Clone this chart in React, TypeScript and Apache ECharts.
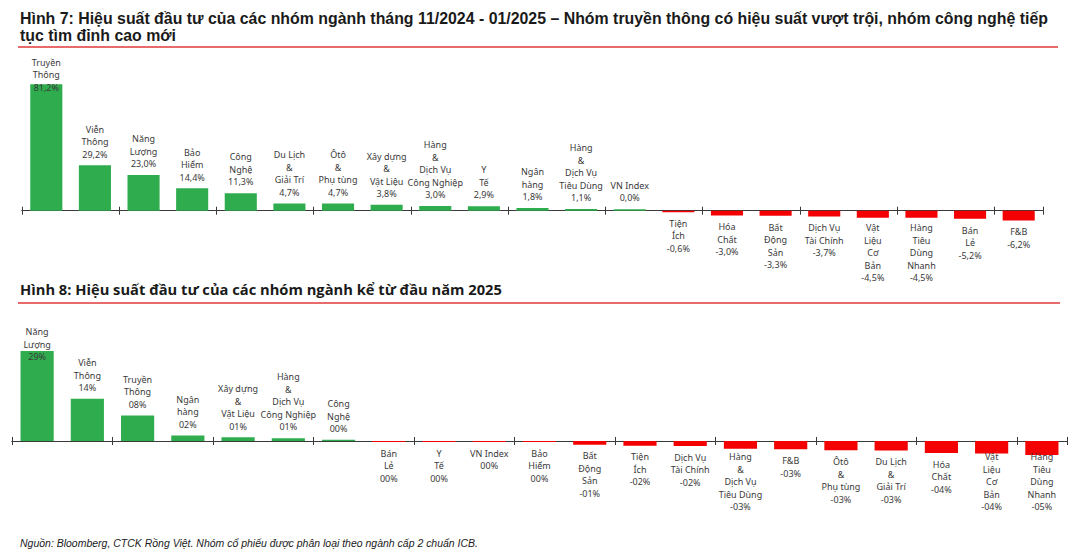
import React, { useEffect, useRef } from "react";
import * as echarts from "echarts";

const cats7 = ["Truyền\nThông", "Viễn\nThông", "Năng\nLượng", "Bảo\nHiểm", "Công\nNghệ", "Du Lịch\n&\nGiải Trí", "Ôtô\n&\nPhụ tùng", "Xây dựng\n&\nVật Liệu", "Hàng\n&\nDịch Vụ\nCông Nghiệp", "Y\nTế", "Ngân\nhàng", "Hàng\n&\nDịch Vụ\nTiêu Dùng", "VN Index", "Tiện\nÍch", "Hóa\nChất", "Bất\nĐộng\nSản", "Dịch Vụ\nTài Chính", "Vật\nLiệu\nCơ\nBản", "Hàng\nTiêu\nDùng\nNhanh", "Bán\nLẻ", "F&B"];
const vals7 = [81.2, 29.2, 23.0, 14.4, 11.3, 4.7, 4.7, 3.8, 3.0, 2.9, 1.8, 1.1, 0.0, -0.6, -3.0, -3.3, -3.7, -4.5, -4.5, -5.2, -6.2];

const cats8 = ["Năng\nLượng", "Viễn\nThông", "Truyền\nThông", "Ngân\nhàng", "Xây dựng\n&\nVật Liệu", "Hàng\n&\nDịch Vụ\nCông Nghiệp", "Công\nNghệ", "Bán\nLẻ", "Y\nTế", "VN Index", "Bảo\nHiểm", "Bất\nĐộng\nSản", "Tiện\nÍch", "Dịch Vụ\nTài Chính", "Hàng\n&\nDịch Vụ\nTiêu Dùng", "F&B", "Ôtô\n&\nPhụ tùng", "Du Lịch\n&\nGiải Trí", "Hóa\nChất", "Vật\nLiệu\nCơ\nBản", "Hàng\nTiêu\nDùng\nNhanh"];
const vals8 = [29.0, 13.6, 8.2, 1.8, 1.2, 0.9, 0.4, -0.1, -0.2, -0.2, -0.3, -1.2, -1.5, -1.6, -2.5, -2.7, -3.0, -3.1, -3.9, -4.0, -4.5];

const title7a = "Hình 7: Hiệu suất đầu tư của các nhóm ngành tháng 11/2024 - 01/2025 – Nhóm truyền thông có hiệu suất vượt trội, nhóm công nghệ tiếp";
const title7b = "tục tìm đỉnh cao mới";
const title8 = "Hình 8: Hiệu suất đầu tư của các nhóm ngành kể từ đầu năm 2025";
const footer = "Nguồn: Bloomberg, CTCK Rồng Việt. Nhóm cổ phiếu được phân loại theo ngành cấp 2 chuẩn ICB.";

const GREEN = "#2FAD4E";
const RED = "#F40000";
const AXIS = "#3a3a3a";
const LABEL_FONT = "'Noto Sans', 'Open Sans', sans-serif";
const TITLE_FONT = "bold 16px 'Liberation Sans', sans-serif";
const TITLE8_FONT = "bold 14px 'Open Sans', sans-serif";
const FOOT_FONT = "italic 11.5px 'Liberation Sans', sans-serif";
const LINE_H = 12.5;
const DIST = 5;

const fmt7 = (v: number) => v.toFixed(1).replace(".", ",") + "%";
const fmt8 = (v: number) => {
  const r = Math.round(Math.abs(v));
  const s = String(r).padStart(2, "0");
  return (r !== 0 && v < 0 ? "-" : "") + s + "%";
};

function measure(text: string, font: string) {
  const c = document.createElement("canvas").getContext("2d");
  if (!c) return 1;
  c.font = font;
  return c.measureText(text).width || 1;
}

type Panel = { top: number; height: number; min: number; max: number; labelTop: number; labelBottom: number };

const panel7: Panel = { top: 70.6, height: 155.7, min: -10, max: 90, labelTop: 56, labelBottom: 284 };
const panel8: Panel = { top: 332.5, height: 139.5, min: -10, max: 35, labelTop: 325.5, labelBottom: 513 };

function makeData(cats: string[], vals: number[], fmt: (v: number) => string, p: Panel) {
  const ppu = p.height / (p.max - p.min);
  const zeroY = p.top + p.max * ppu;
  return vals.map((v, i) => {
    const lines = cats[i].split("\n").length + 1;
    const h = lines * LINE_H;
    let off = 0;
    if (v >= 0) {
      const labelTopY = zeroY - v * ppu - DIST - h;
      if (labelTopY < p.labelTop) off = p.labelTop - labelTopY;
    } else {
      const labelBottomY = zeroY - v * ppu + DIST + h;
      if (labelBottomY > p.labelBottom) off = p.labelBottom - labelBottomY;
    }
    return {
      value: v,
      itemStyle: { color: v >= 0 ? GREEN : RED },
      label: {
        position: v >= 0 ? "top" : "bottom",
        offset: [0, off],
        formatter: cats[i] + "\n" + fmt(v),
      },
    };
  });
}

function xAxes(gridIndex: number, cats: string[]) {
  const base = {
    type: "category",
    gridIndex,
    data: cats,
    position: "bottom",
    axisLabel: { show: false },
    splitLine: { show: false },
    axisLine: { show: true, onZero: true, lineStyle: { color: AXIS, width: 1 } },
  };
  return [
    { ...base, axisTick: { show: true, inside: false, length: 4, lineStyle: { color: AXIS } } },
    { ...base, axisTick: { show: true, inside: true, length: 4, lineStyle: { color: AXIS } } },
  ];
}

function yAxes(gridIndex: number, p: Panel) {
  const base = { type: "value", gridIndex, min: p.min, max: p.max, show: false, splitLine: { show: false } };
  return [base, { ...base }];
}

const labelBase = {
  show: true,
  fontSize: 9,
  lineHeight: LINE_H,
  fontFamily: LABEL_FONT,
  color: "#3a3a3a",
  distance: DIST,
};

function fittedText(text: string, font: string, x: number, y: number, targetWidth: number) {
  const w = measure(text, font);
  return {
    type: "text",
    x,
    y,
    scaleX: targetWidth / w,
    style: { text, font, fill: "#1a1a1a", align: "left", verticalAlign: "middle" },
  };
}

export default function App() {
  const ref = useRef<HTMLDivElement>(null);
  useEffect(() => {
    if (!ref.current) return;
    const chart = echarts.init(ref.current, undefined, { renderer: "svg" });
    const t7aW = 1028;
    const t7Scale = t7aW / measure(title7a, TITLE_FONT);
    const option: any = {
      animation: false,
      backgroundColor: "#ffffff",
      grid: [
        { left: 22, width: 1021, top: panel7.top, height: panel7.height },
        { left: 12, width: 1055, top: panel8.top, height: panel8.height },
      ],
      xAxis: [...xAxes(0, cats7), ...xAxes(1, cats8)],
      yAxis: [...yAxes(0, panel7), ...yAxes(1, panel8)],
      series: [
        {
          type: "bar",
          xAxisIndex: 0,
          yAxisIndex: 0,
          barWidth: "66%",
          barMinHeight: 1.5,
          label: labelBase,
          data: makeData(cats7, vals7, fmt7, panel7),
        },
        {
          type: "bar",
          xAxisIndex: 2,
          yAxisIndex: 2,
          barWidth: "66%",
          barMinHeight: 1,
          label: labelBase,
          data: makeData(cats8, vals8, fmt8, panel8),
        },
      ],
      graphic: [
        fittedText(title7a, TITLE_FONT, 20, 18, t7aW),
        {
          type: "text",
          x: 20,
          y: 35,
          scaleX: t7Scale,
          style: { text: title7b, font: TITLE_FONT, fill: "#1a1a1a", align: "left", verticalAlign: "middle" },
        },
        {
          type: "line",
          shape: { x1: 18, y1: 47, x2: 1058, y2: 47 },
          style: { stroke: "#E03A3A", lineWidth: 1.5 },
        },
        fittedText(title8, TITLE8_FONT, 20, 290, 482),
        {
          type: "line",
          shape: { x1: 18, y1: 303, x2: 1060, y2: 303 },
          style: { stroke: "#E03A3A", lineWidth: 1.5 },
        },
        fittedText(footer, FOOT_FONT, 20, 543, 458),
      ],
    };
    chart.setOption(option);
    return () => chart.dispose();
  }, []);
  return <div ref={ref} style={{ width: 1083, height: 551, position: "absolute", left: 0, top: 0 }} />;
}
